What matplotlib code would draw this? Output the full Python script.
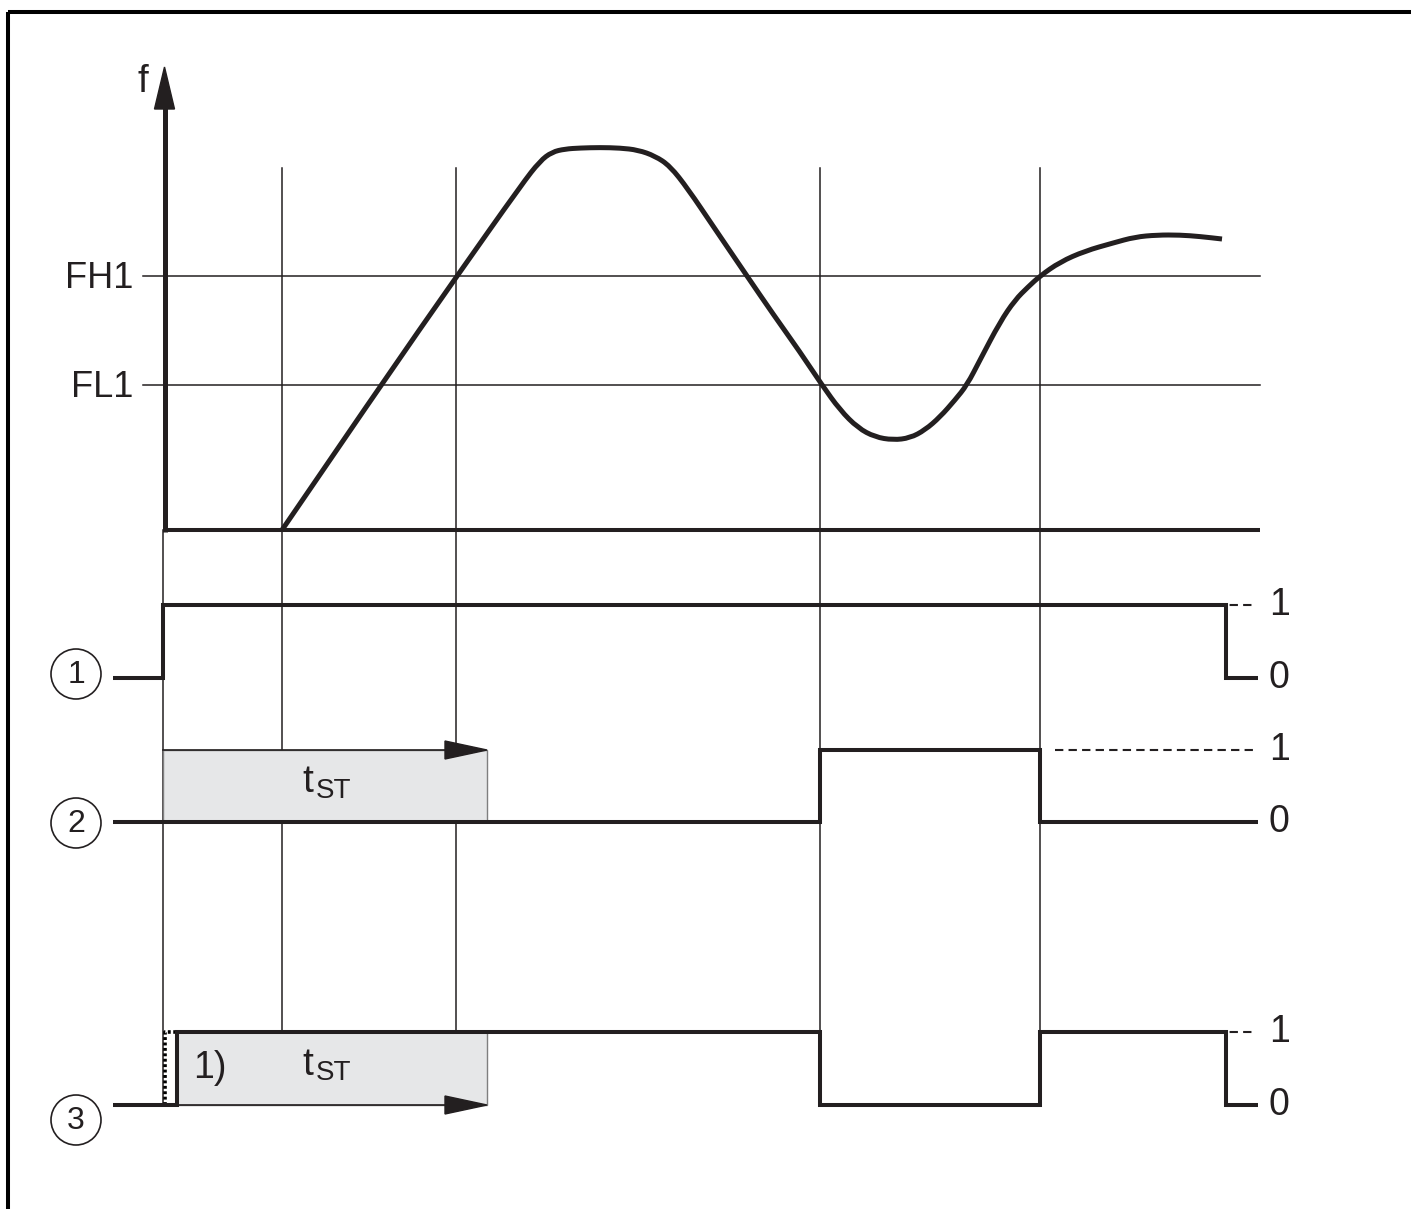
import matplotlib
matplotlib.use("Agg")
import matplotlib.pyplot as plt
from matplotlib.patches import Rectangle, Circle, Polygon, PathPatch
from matplotlib.path import Path

plt.rcParams['font.family'] = ['Liberation Sans', 'DejaVu Sans']

# ---------------- data (pixel layout of the diagram) ----------------
W, H = 1411, 1209
INK = '#231f20'
GRAY_FILL = '#e6e7e8'

# time marks (x positions)
t_axis = 163          # f axis / power-on
t_grid = [282, 456, 820, 1040]
t_end = 1226          # end of signal
x_sig_start = 113
x_right = 1258

# f diagram levels
f_base = 530
f_levels = {'FH1': 276, 'FL1': 385}
grid_top = 168

# frequency curve
curve_x = [282, 381, 457, 522, 540, 552, 565, 580, 600, 620, 638, 655, 670, 688,
           713, 747, 773, 800, 822, 840, 858, 875, 893, 910, 925, 940, 955, 967,
           980, 1000, 1015, 1028, 1040, 1060, 1085, 1113, 1135, 1157, 1180, 1200, 1222]
curve_y = [530, 385, 276, 184, 161, 152, 149, 148, 147.5, 148, 150, 156, 166, 189,
           226, 276, 314, 352, 385, 410, 428, 437, 440, 438, 430, 417, 400, 385,
           360, 322, 300, 287, 276, 262, 251, 243, 237, 235, 235, 236.5, 239]

# switching signals: (y of level 1, y of level 0)
sig_levels = [(605, 678), (750, 822), (1032, 1105)]
sig1_x = [x_sig_start, 163, 163, t_end, t_end, x_right]
sig1_v = [0, 0, 1, 1, 0, 0]
sig2_x = [x_sig_start, 820, 820, 1040, 1040, x_right]
sig2_v = [0, 0, 1, 1, 0, 0]
sig3_x = [x_sig_start, 177, 177, 820, 820, 1040, 1040, t_end, t_end, x_right]
sig3_v = [0, 0, 1, 1, 0, 0, 1, 1, 0, 0]
signals = [(sig1_x, sig1_v), (sig2_x, sig2_v), (sig3_x, sig3_v)]
dash_start = [1040, 1055, 1040]
circle_labels = ['1', '2', '3']
circle_y = [674, 823, 1120]
circle_x = 76
circle_r = 25

# start-up delay boxes
tst_box2 = (163, 487)
tst_box3 = (177, 487)

# ---------------- figure ----------------
fig = plt.figure(figsize=(W / 100, H / 100), dpi=100)
ax = fig.add_axes([0, 0, 1, 1])
ax.set_xlim(0, W)
ax.set_ylim(H, 0)
ax.axis('off')

# outer frame (extends past right and bottom edges)
ax.add_patch(Rectangle((8, 12), W + 50, H + 50, fill=False, lw=2.9, ec='black',
                       zorder=1))

thin = 1.1
# vertical grid lines
for x in t_grid:
    ax.plot([x, x], [grid_top, sig_levels[2][1]], color=INK, lw=thin, zorder=2)
ax.plot([t_axis, t_axis], [f_base, sig_levels[2][1]], color=INK, lw=thin, zorder=2)

# threshold lines + labels
for name, y in f_levels.items():
    ax.plot([143, 1260], [y, y], color=INK, lw=thin, zorder=2)
    ax.text(133, y + 12, name, ha='right', va='baseline', fontsize=26, color=INK)

# baseline
ax.plot([t_axis, 1260], [f_base, f_base], color=INK, lw=2.9, zorder=3,
        solid_capstyle='butt')
# f axis with arrow
ax.plot([t_axis + 1.5, t_axis + 1.5], [f_base + 2, 105], color=INK, lw=3.6, zorder=3,
        solid_capstyle='butt')
ax.add_patch(Polygon([[t_axis + 1.5 - 10, 109], [t_axis + 1.5, 67], [t_axis + 1.5 + 10, 109]],
                     closed=True, color=INK, zorder=3))
ax.text(137, 92, 'f', ha='left', va='baseline', fontsize=28, color=INK)

# frequency curve, drawn as a smooth quadratic path through the read points
pts = list(zip(curve_x, curve_y))
verts = [pts[0]]
codes = [Path.MOVETO]
for i in range(1, len(pts) - 1):
    mid = ((pts[i][0] + pts[i + 1][0]) / 2, (pts[i][1] + pts[i + 1][1]) / 2)
    verts += [pts[i], mid]
    codes += [Path.CURVE3, Path.CURVE3]
verts.append(pts[-1])
codes.append(Path.LINETO)
ax.add_patch(PathPatch(Path(verts, codes), fill=False, ec=INK, lw=3.6, zorder=4,
                       capstyle='butt', joinstyle='round'))

# t_ST boxes
def tst_box(x0, x1, y_top, y_bot, arrow_y, t_base, st_base):
    ax.add_patch(Rectangle((x0, y_top), x1 - x0, y_bot - y_top, facecolor=GRAY_FILL,
                           edgecolor='#7f7f7f', lw=1.0, zorder=5))
    ax.plot([x0, x1 - 40], [arrow_y, arrow_y], color=INK, lw=1.2, zorder=6)
    ax.add_patch(Polygon([[x1 - 42, arrow_y - 9], [x1, arrow_y], [x1 - 42, arrow_y + 9]],
                         closed=True, color=INK, zorder=7))
    ax.text(302, t_base, 't', ha='left', va='baseline', fontsize=28, color=INK, zorder=7)
    ax.text(316, st_base, 'ST', ha='left', va='baseline', fontsize=20, color=INK, zorder=7)

tst_box(tst_box2[0], tst_box2[1], sig_levels[1][0], sig_levels[1][1],
        sig_levels[1][0], 792, 798)
tst_box(tst_box3[0], tst_box3[1], sig_levels[2][0], sig_levels[2][1],
        sig_levels[2][1], 1075, 1080)
ax.text(193, 1078, '1)', ha='left', va='baseline', fontsize=27, color=INK, zorder=7)

# dotted alternative edge for signal 3
ax.plot([165, 165, 198], [sig_levels[2][1], sig_levels[2][0], sig_levels[2][0]],
        color='black', lw=2.6, ls=(0, (0.8, 0.7)), zorder=8)

# signals
for i, ((xs, vs), (y1, y0)) in enumerate(zip(signals, sig_levels)):
    ys = [y1 if v else y0 for v in vs]
    ax.plot(xs, ys, color=INK, lw=2.9, zorder=9, solid_joinstyle='miter',
            solid_capstyle='butt')
    ax.plot([dash_start[i], 1255], [y1, y1], color=INK, lw=1.5, dashes=(4, 2.5),
            zorder=10)
    ax.text(1269, y1 + 10, '1', ha='left', va='baseline', fontsize=27, color=INK)
    ax.text(1268, y0 + 10, '0', ha='left', va='baseline', fontsize=27, color=INK)
    ax.add_patch(Circle((circle_x, circle_y[i]), circle_r, fill=False, ec=INK,
                        lw=1.2, zorder=9))
    ax.text(circle_x, circle_y[i] + 1, circle_labels[i], ha='center', va='center',
            fontsize=23, color=INK, zorder=9)

fig.savefig('out.png', dpi=100)
